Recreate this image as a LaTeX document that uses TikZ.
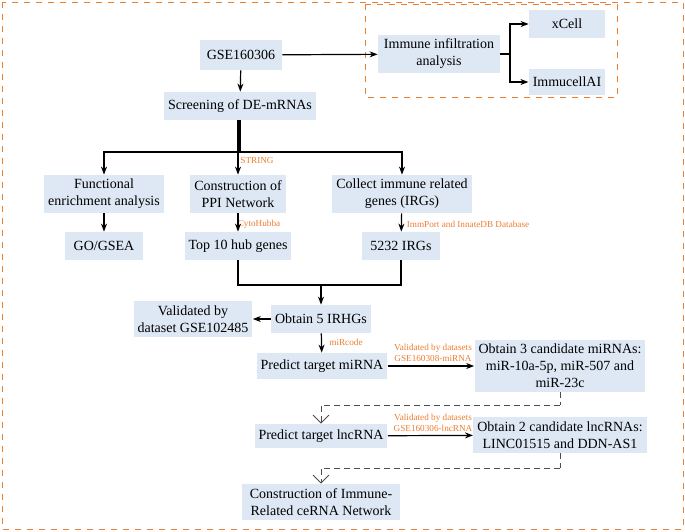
\documentclass[tikz,border=0pt]{standalone}
\usepackage{fontspec}
\setmainfont{Liberation Serif}
\usetikzlibrary{arrows.meta, positioning}
\definecolor{boxblue}{RGB}{221,232,244}
\definecolor{lborange}{RGB}{237,125,49}
\tikzstyle{recNode} = [rectangle, fill=boxblue, text centered, align=center, font=\fontsize{7}{8.5}\selectfont, inner sep=2pt]
\tikzstyle{lbl} = [text=lborange, font=\fontsize{4.6}{5.6}\selectfont, align=center]
\tikzstyle{arrow} = [semithick,-{Stealth[length=4pt]},draw=black]
\tikzstyle{arrowD} = [densely dashed,thin,-{Straight Barb[open,length=4pt]},draw=black!70]
\begin{document}
\begin{tikzpicture}[x=0.5pt,y=-0.5pt]
    \useasboundingbox (0,0) rectangle (685,531);
    \draw[lborange, dashed, thin] (2,2) rectangle (683,529);
    \draw[lborange, dashed, thin] (365,4) rectangle (617,97);

    \node (gse) [recNode, minimum width=41pt, minimum height=15pt] at (241,55) {GSE160306};
    \node (immune) [recNode, minimum width=61pt, minimum height=19pt] at (439,54) {Immune infiltration\\analysis};
    \node (xcell) [recNode, minimum width=38pt, minimum height=14pt] at (567,24) {xCell};
    \node (immucell) [recNode, minimum width=38pt, minimum height=13pt] at (567,82) {ImmucellAI};
    \node (screen) [recNode, minimum width=70pt, minimum height=14pt] at (240,106) {Screening of DE-mRNAs};
    \node (func) [recNode, minimum width=59pt, minimum height=19pt] at (104,194) {Functional\\enrichment analysis};
    \node (ppi) [recNode, minimum width=47pt, minimum height=19pt] at (238,194) {Construction of\\PPI Network};
    \node (irg) [recNode, minimum width=68pt, minimum height=19pt] at (402,194) {Collect immune related\\genes (IRGs)};
    \node (go) [recNode, minimum width=39pt, minimum height=14pt] at (104,246) {GO/GSEA};
    \node (hub) [recNode, minimum width=46pt, minimum height=14pt] at (238,246) {Top 10 hub genes};
    \node (irgs) [recNode, minimum width=39pt, minimum height=14pt] at (401,246) {5232 IRGs};
    \node (irhg) [recNode, minimum width=47pt, minimum height=14pt] at (321,319) {Obtain 5 IRHGs};
    \node (valid) [recNode, minimum width=57pt, minimum height=18pt] at (193,319) {Validated by\\dataset GSE102485};
    \node (mirna) [recNode, minimum width=60pt, minimum height=13pt] at (322,366) {Predict target miRNA};
    \node (cand3) [recNode, minimum width=77pt, minimum height=24pt] at (560,366) {Obtain 3 candidate miRNAs:\\miR-10a-5p, miR-507 and\\miR-23c};
    \node (lnc) [recNode, minimum width=62pt, minimum height=12pt] at (321,436) {Predict target lncRNA};
    \node (cand2) [recNode, minimum width=77pt, minimum height=18pt] at (560,435) {Obtain 2 candidate lncRNAs:\\LINC01515 and DDN-AS1};
    \node (cerna) [recNode, minimum width=79pt, minimum height=18pt] at (321,502) {Construction of Immune-\\Related ceRNA Network};

    \node (string) [lbl] at (257,160) {STRING};
    \node (cyto) [lbl] at (259,224) {CytoHubba};
    \node (immport) [lbl] at (468,224) {ImmPort and InnateDB Database};
    \node (mircode) [lbl] at (346,342) {miRcode};
    \node (vmir) [lbl] at (433,353) {Validated by datasets\\GSE160308-miRNA};
    \node (vlnc) [lbl] at (433,423) {Validated by datasets\\GSE160306-lncRNA};

    \coordinate (split) at (510,54);
    \coordinate (hubs) at (240,152);
    \coordinate (join) at (321,285);
    \coordinate (turn3) at (560,405);
    \coordinate (turn2) at (560,468);

    \draw [arrow] (gse) -- (immune);
    \draw [semithick] (immune) -- (split);
    \draw [arrow] (split) |- (xcell);
    \draw [arrow] (split) |- (immucell);
    \draw [arrow] (gse) -- (screen);
    \draw [semithick] (screen) -- (hubs);
    \draw [arrow] (hubs) -| (func);
    \draw [arrow] (hubs) -| (irg);
    \draw [arrow] (screen.south -| ppi) -- (ppi);
    \draw [arrow] (func) -- (go);
    \draw [arrow] (ppi) -- (hub);
    \draw [arrow] (irg) -- (irgs);
    \draw [semithick] (hub) |- (join);
    \draw [semithick] (irgs) |- (join);
    \draw [arrow] (join) -- (irhg);
    \draw [arrow] (irhg) -- (valid);
    \draw [arrow] (irhg) -- (mirna);
    \draw [arrow] (mirna) -- (cand3);
    \draw [densely dashed,thin,draw=black!70] (cand3) -- (turn3);
    \draw [arrowD] (turn3) -| (lnc);
    \draw [arrow] (lnc) -- (cand2);
    \draw [densely dashed,thin,draw=black!70] (cand2) -- (turn2);
    \draw [arrowD] (turn2) -| (cerna);
\end{tikzpicture}
\end{document}
